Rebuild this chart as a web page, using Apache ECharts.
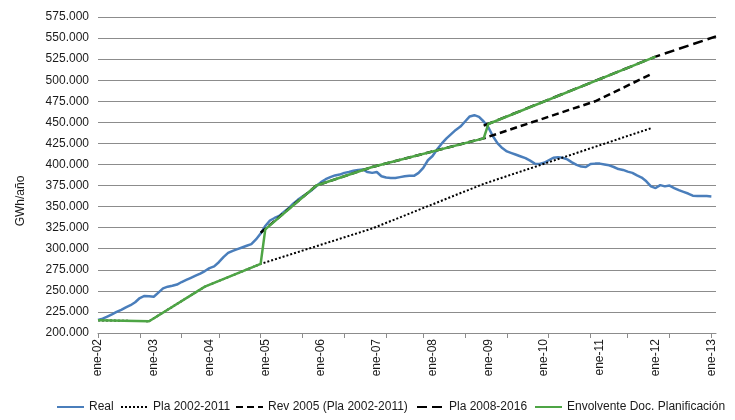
<!DOCTYPE html>
<html>
<head>
<meta charset="utf-8">
<script src="https://cdn.jsdelivr.net/npm/echarts@6/dist/echarts.min.js"></script>
<style>
  html, body { margin: 0; padding: 0; background: #ffffff; }
  #chart { width: 735px; height: 420px; }
</style>
</head>
<body>
<div id="chart"></div>
<script>
// ---- Data (GWh/año) ----
const monthNames = ['ene','feb','mar','abr','may','jun','jul','ago','sep','oct','nov','dic'];
const yearNames = ['02','03','04','05','06','07','08','09','10','11','12','13'];
const lastCategory = 'feb-13';

// Real: monthly values from ene-02 to ene-13
const realValues = [
  215500, 217000, 219500, 222000, 225000, 227500, 230500, 233000, 236500, 241500, 244000, 243500,
  243000, 248000, 253000, 255000, 256000, 257500, 260500, 263000, 265500, 268000, 270500, 273500,
  277000, 279000, 284000, 290000, 295000, 297500, 299500, 301500, 303500, 305500, 311000, 318000,
  327000, 333500, 336500, 339000, 343500, 348000, 353500, 358000, 362000, 365500, 369500, 374500,
  379000, 382500, 385000, 387000, 388000, 390000, 391000, 392500, 393500, 394000, 391000, 390000,
  391000, 386000, 384500, 384000, 384000, 385000, 386000, 386500, 386500, 390000, 396000, 405000,
  410000, 418000, 425000, 431000, 436000, 441000, 445000, 451000, 457000, 458500, 456500, 451000,
  444000, 433500, 425000, 419500, 415500, 413500, 411500, 409500, 407500, 404500, 401000, 400500,
  402000, 405000, 408000, 408500, 408000, 406000, 402500, 399500, 397500, 397000, 400500, 401000,
  401000, 400000, 399000, 397000, 394500, 393500, 391500, 390000, 387000, 384500, 380000, 374000,
  372000, 375500, 374000, 375000, 372000, 369500, 367500, 365500, 363000, 362500, 362500, 362500,
  362000
];

// Planning documents: [month, value]
const pla2002_2011 = [
  ['ene-02', 215000], ['dic-02', 214000], ['dic-03', 255000], ['dic-04', 282000],
  ['dic-06', 324000], ['dic-08', 377000], ['dic-11', 443000]
];
const rev2005 = [
  ['dic-04', 319000], ['dic-05', 375000], ['dic-06', 397000], ['dic-08', 431000],
  ['dic-10', 475000], ['dic-11', 507000]
];
const pla2008_2016 = [
  ['dic-08', 446000], ['ene-12', 528000], ['feb-13', 552000]
];
const envolvente = [
  ['ene-02', 215000], ['dic-02', 214000], ['dic-03', 255000], ['dic-04', 282000],
  ['ene-05', 323000], ['dic-05', 375000], ['dic-06', 397000], ['dic-08', 431000],
  ['ene-09', 448000], ['ene-12', 528000]
];

const seriesNames = ['Real', 'Pla 2002-2011', 'Rev 2005 (Pla 2002-2011)', 'Pla 2008-2016', 'Envolvente Doc. Planificación'];

const yMin = 200000, yMax = 575000, yStep = 25000;

// ---- Build categories ----
const categories = [];
outer:
for (const y of yearNames) {
  for (const m of monthNames) {
    const c = m + '-' + y;
    categories.push(c);
    if (c === lastCategory) break outer;
  }
}

const FONT = 'Liberation Sans';
const TXT = '#1a1a1a';
const GRID = '#8c8c8c';

// tick marks: 15 equal intervals between ene-02 and ene-13
const nTickIntervals = 15;
const spanMonths = 132;
const tickSet = new Set();
for (let k = 0; k <= nTickIntervals; k++) tickSet.add(Math.round(k * spanMonths / nTickIntervals));

function fmt(v) {
  const th = Math.floor(v / 1000);
  const r = String(v % 1000).padStart(3, '0');
  return th + '.' + r;
}

const chart = echarts.init(document.getElementById('chart'), null, { renderer: 'canvas' });

const lineBase = { type: 'line', symbol: 'none', showSymbol: false, animation: false, connectNulls: true };

const legendLefts = [51, 115, 230, 411, 529];
const legends = seriesNames.map((n, i) => ({
  left: legendLefts[i],
  top: 396,
  itemWidth: 27,
  itemHeight: 10,
  itemStyle: { opacity: 0 },
  textStyle: { fontFamily: FONT, fontSize: 12, color: TXT },
  data: [n]
}));

chart.setOption({
  animation: false,
  backgroundColor: '#ffffff',
  grid: { left: 98, right: 19, top: 17, bottom: 87, containLabel: false },
  legend: legends,
  graphic: [{
    type: 'text',
    x: 21,
    y: 201,
    rotation: Math.PI / 2,
    style: {
      text: 'GWh/año',
      font: '12px "' + FONT + '"',
      fill: TXT,
      textAlign: 'center',
      textVerticalAlign: 'middle'
    }
  }],
  xAxis: {
    type: 'category',
    data: categories,
    boundaryGap: false,
    axisLine: { show: true, lineStyle: { color: GRID, width: 1 } },
    axisTick: {
      show: true,
      length: 5,
      interval: (i) => tickSet.has(i),
      lineStyle: { color: GRID, width: 1 }
    },
    axisLabel: {
      interval: (i) => i % 12 === 0,
      rotate: 90,
      margin: 6,
      fontFamily: FONT,
      fontSize: 12,
      color: TXT
    },
    splitLine: { show: false }
  },
  yAxis: {
    type: 'value',
    min: yMin,
    max: yMax,
    interval: yStep,
    axisLine: { show: false },
    axisTick: { show: false },
    axisLabel: {
      formatter: fmt,
      margin: 9,
      fontFamily: FONT,
      fontSize: 12,
      color: TXT
    },
    splitLine: { show: true, lineStyle: { color: GRID, width: 1 } }
  },
  series: [
    Object.assign({}, lineBase, {
      name: seriesNames[0],
      data: realValues,
      color: '#4a7ebb',
      lineStyle: { color: '#4a7ebb', width: 2.5 }
    }),
    Object.assign({}, lineBase, {
      name: seriesNames[1],
      data: pla2002_2011,
      color: '#000000',
      lineStyle: { color: '#000000', width: 2, type: [2, 2] }
    }),
    Object.assign({}, lineBase, {
      name: seriesNames[2],
      data: rev2005,
      color: '#000000',
      lineStyle: { color: '#000000', width: 2.5, type: [7, 4] }
    }),
    Object.assign({}, lineBase, {
      name: seriesNames[3],
      data: pla2008_2016,
      color: '#000000',
      lineStyle: { color: '#000000', width: 2.5, type: [10, 5] }
    }),
    Object.assign({}, lineBase, {
      name: seriesNames[4],
      data: envolvente,
      color: '#4ea545',
      lineStyle: { color: '#4ea545', width: 2.5 }
    })
  ]
});
</script>
</body>
</html>
